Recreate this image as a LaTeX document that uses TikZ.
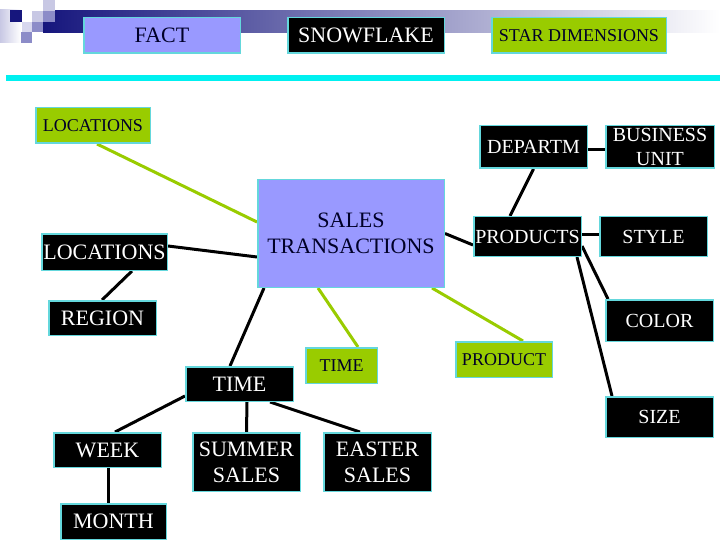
\documentclass[tikz,border=0pt]{standalone}
\usepackage{fontspec}
\setmainfont{Liberation Serif}
\usetikzlibrary{calc}
\pgfdeclarelayer{background}
\pgfsetlayers{background,main}
\definecolor{peri}{RGB}{153,153,255}
\definecolor{grnfill}{RGB}{153,204,0}
\definecolor{edgec}{RGB}{100,215,220}
\definecolor{navyc}{RGB}{22,22,125}
\definecolor{grayc}{RGB}{150,150,178}
\definecolor{ink}{RGB}{0,0,40}
\definecolor{cyanline}{RGB}{0,240,240}
\definecolor{lavA}{RGB}{200,200,228}
\definecolor{lavB}{RGB}{140,140,200}
\definecolor{lavC}{RGB}{215,215,238}
\tikzset{
 base/.style={draw=edgec, line width=1.5pt, inner sep=0pt, align=center, anchor=center},
 blk/.style={base, fill=black, text=white},
 per/.style={base, fill=peri, text=ink},
 grn/.style={base, fill=grnfill, text=ink},
 fbig/.style={font=\fontsize{22}{26}\selectfont},
 fmid/.style={font=\fontsize{20}{24}\selectfont},
 fsml/.style={font=\fontsize{18}{21.6}\selectfont},
 sz/.style 2 args={minimum width=#1pt-1.5pt, minimum height=#2pt-1.5pt},
 bl/.style={line width=3pt, black},
 gl/.style={line width=3pt, grnfill},
}
\begin{document}
\begin{tikzpicture}[x=1pt,y=-1pt]
\useasboundingbox (0,0) rectangle (720,540);
% header decoration
\fill[left color=navyc, middle color=grayc, right color=white] (43,11) rectangle (720,33);
\fill[left color=lavA, right color=white] (0,10) rectangle (21,43);
\fill[navyc] (10,10) rectangle (22,22);
\fill[lavC] (22,22) rectangle (32,32);
\fill[lavA] (32,11) rectangle (43,22);
\fill[lavA] (43,0) rectangle (55,11);
\fill[lavB] (43,11) rectangle (55,22);
\fill[lavB] (32,22) rectangle (43,32);
\fill[lavB] (21,32) rectangle (32,43);
\fill[cyanline] (6,75) rectangle (720,81);
% nodes
\node[per, fbig, sz={158}{37}] (fact) at (162,35.5) {FACT};
\node[blk, fbig, sz={158}{37}] (snow) at (366,35.5) {SNOWFLAKE};
\node[grn, fsml, sz={176}{37}] (star) at (579,35.5) {STAR DIMENSIONS};
\node[grn, fsml, sz={116}{37}] (locg) at (93,125.5) {LOCATIONS};
\node[blk, fbig, sz={127}{38}] (locb) at (104.5,252) {LOCATIONS};
\node[per, fbig, sz={188}{109}] (sales) at (351,233.5) {SALES\\TRANSACTIONS};
\node[blk, fmid, sz={109}{44}] (dept) at (533.5,147) {DEPARTM};
\node[blk, fmid, sz={110}{44}] (bu) at (660,147) {BUSINESS\\UNIT};
\node[blk, fmid, sz={109}{41}] (prods) at (527.5,236.5) {PRODUCTS};
\node[blk, fmid, sz={109}{41}] (style) at (653.5,236.5) {STYLE};
\node[blk, fbig, sz={109}{36}] (region) at (102.5,318) {REGION};
\node[blk, fbig, sz={109}{36}] (timeb) at (239.5,384) {TIME};
\node[grn, fsml, sz={73}{37}] (timeg) at (341.5,365.5) {TIME};
\node[blk, fbig, sz={109}{36}] (week) at (107.5,450) {WEEK};
\node[blk, fbig, sz={109}{60}] (summer) at (246.5,462) {SUMMER\\SALES};
\node[blk, fbig, sz={109}{60}] (easter) at (377.5,462) {EASTER\\SALES};
\node[blk, fbig, sz={107}{37}] (month) at (113.5,521.5) {MONTH};
\node[grn, fsml, sz={98}{37}] (prodg) at (504,359.5) {PRODUCT};
\node[blk, fmid, sz={109}{43}] (color) at (659.5,320.5) {COLOR};
\node[blk, fmid, sz={109}{42}] (size) at (659.5,417) {SIZE};
% connectors
\begin{pgfonlayer}{background}
\draw[gl] ([xshift=4pt]locg.south) -- ([yshift=11.5pt]sales.west);
\draw[bl] ([yshift=6pt]locb.east) -- ([yshift=-23.5pt]sales.west);
\draw[bl] ([xshift=27.5pt]locb.south) -- ([xshift=-0.5pt]region.north);
\draw[bl] ([xshift=7pt]sales.south west) -- ([xshift=-9.5pt]timeb.north);
\draw[gl] ([xshift=-33pt]sales.south) -- ([xshift=16.5pt]timeg.north);
\draw[bl] (sales.east) -- ([yshift=-8.5pt]prods.west);
\draw[bl] (dept.south) -- ([xshift=-17.5pt]prods.north);
\draw[bl] ([yshift=-3pt]dept.east) -- ([yshift=-3pt]bu.west);
\draw[bl] ([yshift=2pt]prods.east) -- ([yshift=2pt]style.west);
\draw[bl] ([yshift=-9.5pt]prods.east) -- ([xshift=3pt]color.north west);
\draw[bl] ([xshift=-5pt]prods.south east) -- ([xshift=7pt]size.north west);
\draw[gl] ([xshift=-13pt]sales.south east) -- ([xshift=19pt]prodg.north);
\draw[bl] ([yshift=6pt]timeb.south west) -- ([xshift=7.5pt]week.north);
\draw[bl] ([xshift=7.5pt]timeb.south) -- (summer.north);
\draw[bl] ([xshift=30.5pt]timeb.south) -- ([xshift=-17.5pt]easter.north);
\draw[bl] ([xshift=0.5pt]week.south) -- ([xshift=0.5pt]week.south |- month.north);
\end{pgfonlayer}
\end{tikzpicture}
\end{document}
